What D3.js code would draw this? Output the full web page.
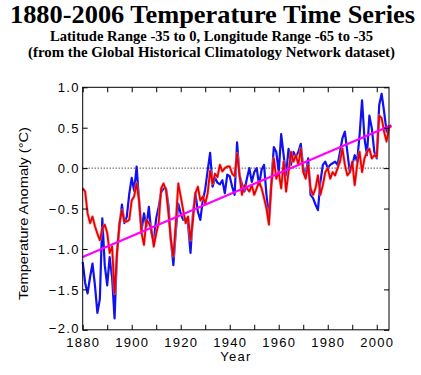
<!DOCTYPE html>
<html><head><meta charset="utf-8">
<script src="https://cdn.jsdelivr.net/npm/d3@7"></script>
<style>
html,body{margin:0;padding:0;background:#fff;}
svg{display:block;}
</style></head>
<body><svg id="c" width="421" height="375"></svg>
<script>
const firstYear = 1880;
const blueValues = [
-1.16,-1.42,-1.55,-1.35,-1.18,-1.45,-1.79,-1.62,-0.62,-1.20,
-1.45,-1.10,-1.35,-1.86,-1.05,-0.72,-0.45,-0.68,-0.60,-0.32,
-0.12,-0.28,0.02,-0.40,-0.78,-0.56,-0.72,-0.48,-0.80,-0.90,
-0.62,-0.48,-0.30,-0.25,-0.25,-0.46,-0.90,-1.20,-0.78,-0.44,
-0.56,-0.64,-0.62,-0.70,-1.05,-0.56,-0.31,-0.54,-0.64,-0.40,
-0.26,-0.03,0.19,-0.23,-0.12,-0.18,-0.20,-0.15,-0.31,-0.08,
-0.10,-0.23,-0.33,0.32,-0.09,-0.20,-0.29,-0.13,0.00,-0.17,
-0.05,0.00,-0.21,-0.02,0.04,-0.33,-0.62,-0.17,0.26,0.20,
-0.05,0.42,0.16,-0.09,0.24,0.04,0.20,0.14,0.20,0.30,
0.00,-0.09,0.12,-0.33,-0.37,-0.45,-0.52,-0.17,0.04,0.08,
0.00,0.04,0.06,0.08,0.04,0.20,0.37,0.45,0.20,-0.05,
0.04,0.16,0.08,0.41,0.84,0.37,0.16,0.65,0.49,0.20,
0.12,0.78,0.92,0.70,0.45,0.53];
const redValues = [
-0.25,-0.29,-0.56,-0.68,-0.60,-0.72,-0.81,-0.89,-0.75,-0.70,
-0.80,-1.05,-0.97,-1.55,-1.05,-0.68,-0.52,-0.66,-0.66,-0.64,
-0.40,-0.35,-0.19,-0.40,-0.80,-0.95,-0.64,-0.68,-0.75,-0.97,
-0.81,-0.68,-0.25,-0.19,-0.27,-0.56,-0.89,-1.09,-0.68,-0.19,
-0.35,-0.52,-0.68,-0.60,-0.89,-0.64,-0.31,-0.23,-0.40,-0.35,
-0.44,-0.31,-0.03,-0.19,-0.07,-0.11,0.04,-0.04,0.00,0.02,
0.02,-0.07,-0.10,0.18,-0.09,-0.33,-0.21,-0.25,-0.29,-0.21,
-0.33,-0.25,-0.17,-0.25,-0.37,-0.50,-0.70,-0.21,0.12,-0.13,
-0.05,-0.25,0.08,-0.29,-0.05,0.20,0.08,0.16,0.04,0.24,
-0.05,-0.13,0.04,-0.25,-0.33,-0.25,-0.09,-0.33,-0.21,-0.05,
0.00,-0.13,-0.05,-0.09,0.00,0.08,0.24,0.04,-0.09,-0.05,
0.08,-0.21,0.04,0.20,-0.05,0.12,0.20,0.24,0.12,0.16,
0.14,0.65,0.62,0.45,0.33,0.50,0.52];
const trendYears = [1880, 2006];
const trendValues = [-1.10, 0.53];
const xTickYears = [1880,1890,1900,1910,1920,1930,1940,1950,1960,1970,1980,1990,2000];
const xLabelYears = [1880,1900,1920,1940,1960,1980,2000];
const yTicks = [-2.0,-1.5,-1.0,-0.5,0.0,0.5,1.0];

const svg = d3.select("#c");
const L = 82.7, R = 389, T = 87.3, B = 329.8;
const x = d3.scaleLinear().domain([1880, 2005]).range([L, R]);
const y = d3.scaleLinear().domain([-2, 1]).range([B, T]);

// titles
svg.append("text").attr("x", 212.5).attr("y", 22.5)
  .attr("text-anchor","middle").attr("font-family","'Liberation Serif','Times New Roman',serif")
  .attr("font-weight","bold").attr("font-size",25)
  .attr("textLength",405).attr("lengthAdjust","spacingAndGlyphs")
  .text("1880-2006 Temperature Time Series");
svg.append("text").attr("x", 211.5).attr("y", 41)
  .attr("text-anchor","middle").attr("font-family","'Liberation Serif','Times New Roman',serif")
  .attr("font-weight","bold").attr("font-size",15)
  .attr("textLength",323).attr("lengthAdjust","spacingAndGlyphs")
  .text("Latitude Range -35 to 0, Longitude Range -65 to -35");
svg.append("text").attr("x", 211.5).attr("y", 56.5)
  .attr("text-anchor","middle").attr("font-family","'Liberation Serif','Times New Roman',serif")
  .attr("font-weight","bold").attr("font-size",15)
  .attr("textLength",367).attr("lengthAdjust","spacingAndGlyphs")
  .text("(from the Global Historical Climatology Network dataset)");

const g = svg.append("g");
// zero dotted line
g.append("line").attr("x1",L).attr("x2",R).attr("y1",y(0)).attr("y2",y(0))
  .attr("stroke","#000").attr("stroke-width",1).attr("stroke-dasharray","1,2");

const line = d3.line().x(d=>x(d[0])).y(d=>y(d[1]));
const blueData = blueValues.map((v,i)=>[firstYear+i, v]);
const redData = redValues.map((v,i)=>[firstYear+i, v]);
const trendData = trendYears.map((yr,i)=>[yr, trendValues[i]]);

g.append("path").datum(blueData).attr("d",line).attr("fill","none")
  .attr("stroke","#1010f0").attr("stroke-width",2.2).attr("stroke-linejoin","round");
g.append("path").datum(redData).attr("d",line).attr("fill","none")
  .attr("stroke","#ff9090").attr("stroke-width",3.2).attr("stroke-linejoin","round").attr("opacity",0.6);
g.append("path").datum(redData).attr("d",line).attr("fill","none")
  .attr("stroke","#e80000").attr("stroke-width",1.8).attr("stroke-linejoin","round");
g.append("path").datum(trendData).attr("d",line).attr("fill","none")
  .attr("stroke","#ff00ff").attr("stroke-width",2.2);

// frame
svg.append("rect").attr("x",L).attr("y",T).attr("width",R-L).attr("height",B-T)
  .attr("fill","none").attr("stroke","#000").attr("stroke-width",1);

// axes using d3 axis generators
const tickFont = "'Liberation Sans',Arial,sans-serif";
const fmtY = d => (d<0 ? "\u2212" : "") + Math.abs(d).toFixed(1);
const xb = svg.append("g").attr("transform",`translate(0,${B})`)
  .call(d3.axisBottom(x).tickValues(xTickYears).tickSizeInner(-5).tickSizeOuter(0)
    .tickFormat(d => xLabelYears.includes(d) ? String(d) : ""));
const xt = svg.append("g").attr("transform",`translate(0,${T})`)
  .call(d3.axisTop(x).tickValues(xTickYears).tickSizeInner(-5).tickSizeOuter(0).tickFormat(""));
const yl = svg.append("g").attr("transform",`translate(${L},0)`)
  .call(d3.axisLeft(y).tickValues(yTicks).tickSizeInner(-5).tickSizeOuter(0).tickFormat(fmtY));
const yr = svg.append("g").attr("transform",`translate(${R},0)`)
  .call(d3.axisRight(y).tickValues(yTicks).tickSizeInner(-5).tickSizeOuter(0).tickFormat(""));
[xb,xt,yl,yr].forEach(a=>{
  a.select(".domain").remove();
  a.selectAll(".tick line").attr("stroke","#000");
  a.selectAll("text").attr("font-family",tickFont).attr("font-size",13)
    .attr("fill","#000").attr("letter-spacing","1.3px");
});
xb.selectAll(".tick text").attr("y",null).attr("dy",null).attr("transform","translate(0,17)");
yl.selectAll(".tick text").attr("x",-3).attr("dy","0.36em");
yl.selectAll(".tick").filter(d => d === -2).select("text").attr("dy","0.2em");

svg.append("text").attr("x",236).attr("y",361).attr("text-anchor","middle")
  .attr("font-family",tickFont).attr("font-size",13).attr("letter-spacing","1.3px").text("Year");
svg.append("text").attr("transform","translate(28,213.5) rotate(-90)").attr("text-anchor","middle")
  .attr("font-family",tickFont).attr("font-size",13)
  .attr("textLength",173).attr("lengthAdjust","spacingAndGlyphs")
  .text("Temperature Anomaly (\u00B0C)");
</script></body></html>
